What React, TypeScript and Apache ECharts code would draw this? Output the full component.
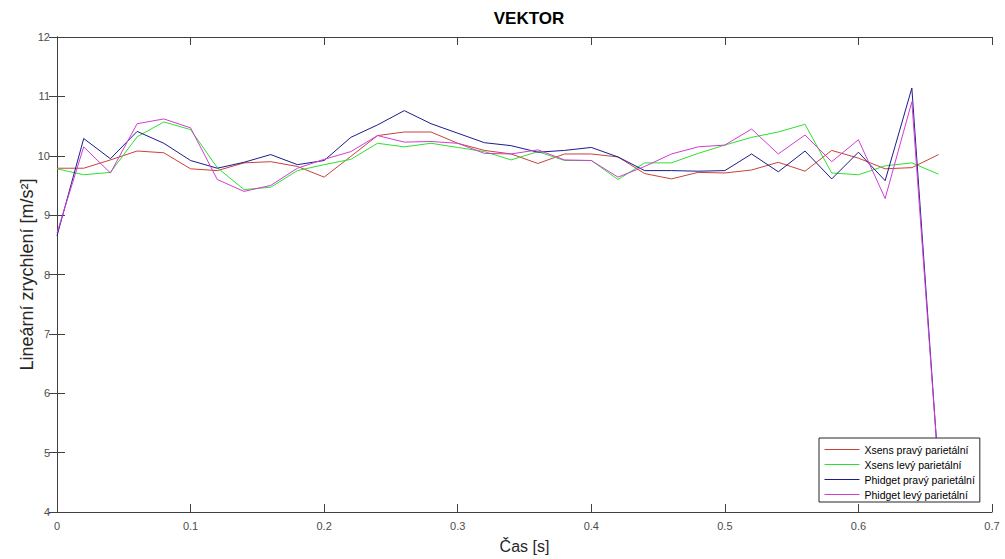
import React, { useEffect, useRef } from 'react';
import * as echarts from 'echarts';

const times = [0, 0.02, 0.04, 0.06, 0.08, 0.1, 0.12, 0.14, 0.16, 0.18, 0.2, 0.22, 0.24, 0.26, 0.28, 0.3, 0.32, 0.34, 0.36, 0.38, 0.4, 0.42, 0.44, 0.46, 0.48, 0.5, 0.52, 0.54, 0.56, 0.58, 0.6, 0.62, 0.64, 0.66];

const xsensRight = [9.79, 9.79, 9.93, 10.08, 10.05, 9.78, 9.75, 9.88, 9.9, 9.82, 9.64, 9.99, 10.34, 10.4, 10.4, 10.21, 10.09, 10.03, 9.87, 10.03, 10.03, 9.98, 9.7, 9.61, 9.72, 9.71, 9.76, 9.89, 9.74, 10.09, 9.96, 9.78, 9.8, 10.02];
const xsensLeft = [9.78, 9.68, 9.72, 10.32, 10.57, 10.44, 9.8, 9.43, 9.47, 9.75, 9.85, 9.94, 10.21, 10.15, 10.21, 10.14, 10.07, 9.93, 10.07, 9.92, 9.92, 9.6, 9.88, 9.88, 10.04, 10.18, 10.31, 10.4, 10.53, 9.71, 9.68, 9.83, 9.88, 9.69];
const phidgetRight = [8.65, 10.29, 9.95, 10.41, 10.21, 9.92, 9.79, 9.89, 10.02, 9.85, 9.92, 10.31, 10.52, 10.76, 10.54, 10.38, 10.22, 10.17, 10.06, 10.09, 10.14, 9.98, 9.75, 9.75, 9.74, 9.75, 10.03, 9.73, 10.08, 9.61, 10.06, 9.58, 11.14, 4.7];
const phidgetLeft = [8.7, 10.15, 9.71, 10.54, 10.62, 10.47, 9.6, 9.4, 9.5, 9.79, 9.94, 10.07, 10.34, 10.23, 10.24, 10.21, 10.04, 10.03, 10.1, 9.93, 9.92, 9.64, 9.82, 10.03, 10.15, 10.18, 10.45, 10.03, 10.35, 9.9, 10.27, 9.28, 10.91, 4.7];

const seriesNames = ['Xsens pravý parietální', 'Xsens levý parietální', 'Phidget pravý parietální', 'Phidget levý parietální'];
const seriesValues = [xsensRight, xsensLeft, phidgetRight, phidgetLeft];
const seriesColors = ['#c8423c', '#2ee02e', '#1c1c8c', '#d23cd2'];

const FONT = 'Liberation Sans, Arial, sans-serif';
const AXIS_COLOR = '#404040';

export default function App() {
  const ref = useRef<HTMLDivElement>(null);
  useEffect(() => {
    if (!ref.current) return;
    const chart = echarts.init(ref.current, undefined, { renderer: 'svg' });
    const axisCommon = {
      axisLine: { show: true, lineStyle: { color: AXIS_COLOR, width: 1 } },
      axisTick: { show: true, inside: true, length: 8, lineStyle: { color: AXIS_COLOR } },
      splitLine: { show: false },
    };
    chart.setOption({
      animation: false,
      backgroundColor: '#ffffff',
      title: {
        text: 'VEKTOR',
        left: 524,
        top: 5,
        textAlign: 'center',
        textStyle: { fontFamily: FONT, fontWeight: 'bold', fontSize: 17, color: '#000' },
      },
      grid: { left: 57, right: 13, top: 37, bottom: 46 },
      legend: {
        orient: 'vertical',
        left: 819,
        top: 438,
        padding: [6, 5, 2, 5],
        itemWidth: 35,
        itemHeight: 11,
        itemGap: 4,
        backgroundColor: '#ffffff',
        borderColor: '#262626',
        borderWidth: 1,
        borderRadius: 0,
        itemStyle: { opacity: 0, color: 'rgba(0,0,0,0)', borderWidth: 0 },
        lineStyle: { width: 1 },
        textStyle: { fontFamily: FONT, fontSize: 10.5, color: '#000', lineHeight: 11 },
        data: seriesNames,
      },
      xAxis: [
        {
          type: 'value',
          min: 0,
          max: 0.7,
          interval: 0.1,
          position: 'bottom',
          name: 'Čas [s]',
          nameLocation: 'middle',
          nameGap: 26,
          nameMoveOverlap: false,
          nameTextStyle: { fontFamily: FONT, fontSize: 16, color: '#262626' },
          axisLabel: { fontFamily: FONT, fontSize: 11, color: '#4d4d4d', margin: 8 },
          ...axisCommon,
        },
        {
          type: 'value',
          min: 0,
          max: 0.7,
          interval: 0.1,
          position: 'top',
          axisLabel: { show: false },
          ...axisCommon,
        },
      ],
      yAxis: [
        {
          type: 'value',
          min: 4,
          max: 12,
          interval: 1,
          position: 'left',
          name: 'Lineární zrychlení [m/s²]',
          nameLocation: 'middle',
          nameGap: 21,
          nameMoveOverlap: false,
          nameTextStyle: { fontFamily: FONT, fontSize: 18, color: '#262626' },
          axisLabel: { fontFamily: FONT, fontSize: 11, color: '#4d4d4d', margin: 7 },
          ...axisCommon,
        },
        {
          type: 'value',
          min: 4,
          max: 12,
          interval: 1,
          position: 'right',
          axisLabel: { show: false },
          ...axisCommon,
        },
      ],
      series: seriesNames.map((name, i) => ({
        name,
        type: 'line',
        xAxisIndex: 0,
        yAxisIndex: 0,
        symbol: 'none',
        showSymbol: false,
        color: seriesColors[i],
        lineStyle: { color: seriesColors[i], width: 1 },
        data: times.map((t, k) => [t, seriesValues[i][k]]),
      })),
    });
    return () => chart.dispose();
  }, []);
  return (
    <div
      ref={ref}
      style={{ position: 'absolute', left: 0, top: 0, width: 1005, height: 559, background: '#fff' }}
    />
  );
}
